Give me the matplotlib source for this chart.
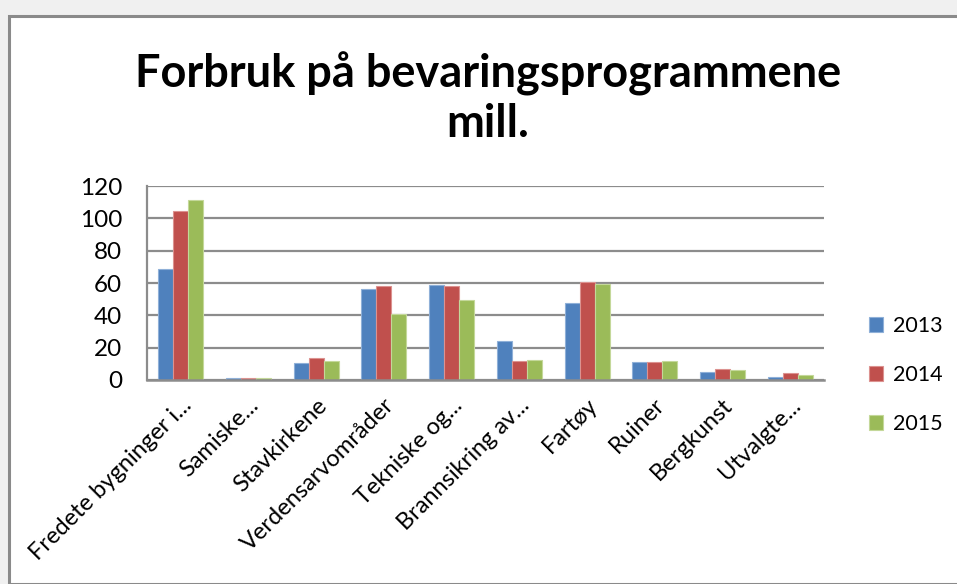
import matplotlib
matplotlib.use("Agg")
import matplotlib.pyplot as plt
import matplotlib.transforms as mtransforms
from matplotlib.patches import Rectangle
import numpy as np

categories = ["Fredete bygninger i...", "Samiske...", "Stavkirkene", "Verdensarvområder",
              "Tekniske og...", "Brannsikring av...", "Fartøy", "Ruiner", "Bergkunst", "Utvalgte..."]
series_names = ["2013", "2014", "2015"]
v2013 = [68.5, 1.5, 10.7, 56.1, 59.0, 24.4, 47.4, 11.1, 4.8, 2.1]
v2014 = [104.8, 1.5, 13.6, 58.4, 58.4, 12.0, 60.4, 11.1, 7.0, 4.1]
v2015 = [111.6, 1.5, 12.0, 41.0, 49.5, 12.6, 59.4, 11.7, 6.0, 2.9]
yticks = [0, 20, 40, 60, 80, 100, 120]
colors = ["#4F81BD", "#C0504D", "#9BBB59"]
edge_colors = ["#8FB0D8", "#DC9290", "#C4D89A"]

plt.rcParams['font.family'] = ['Lato', 'DejaVu Sans']

W, H = 957, 584
fig = plt.figure(figsize=(W / 100, H / 100), dpi=100)
fig.patch.set_facecolor("#f0f0f0")

# chart frame
frame = Rectangle((9 / W, 0), 1.0, 1 - 16 / H, transform=fig.transFigure,
                  facecolor="white", edgecolor="#8a8a8a", linewidth=2.2, zorder=-10)
fig.patches.append(frame)

ax = fig.add_axes([147 / W, 1 - 380 / H, (824 - 147) / W, (380 - 186) / H])
ax.set_facecolor("none")
ax.set_zorder(2)

x = np.arange(len(categories))
bw = 0.222
for i, (vals, c, ec) in enumerate(zip([v2013, v2014, v2015], colors, edge_colors)):
    ax.bar(x + (i - 1) * bw, vals, width=bw, color=c, edgecolor=ec, linewidth=0.8,
           label=series_names[i], zorder=3)

ax.set_xlim(-0.5, len(categories) - 0.5)
ax.set_ylim(0, 120)
ax.set_yticks(yticks)
ax.set_yticklabels([str(t) for t in yticks], fontsize=17.5)
ax.yaxis.grid(True, color="#8c8c8c", linewidth=1.6, zorder=1)
ax.set_axisbelow(True)
for s in ["top", "right"]:
    ax.spines[s].set_visible(False)
ax.spines["left"].set_color("#8c8c8c")
ax.spines["left"].set_linewidth(1.6)
ax.spines["bottom"].set_color("#8c8c8c")
ax.spines["bottom"].set_linewidth(1.8)
ax.spines["bottom"].set_zorder(4)
ax.tick_params(axis="y", length=0, pad=18)
ax.tick_params(axis="x", length=0)

ax.set_xticks(x)
ax.set_xticklabels(categories, rotation=45, ha="right", va="center",
                   rotation_mode="anchor", fontsize=17)
offset = mtransforms.ScaledTranslation(7 / 100, -17 / 100, fig.dpi_scale_trans)
for lab in ax.get_xticklabels():
    lab.set_transform(lab.get_transform() + offset)

fig.text(488 / W, 1 - 98 / H, "Forbruk på bevaringsprogrammene\nmill.",
         ha="center", va="center", fontsize=32.5, fontweight="bold", linespacing=1.2)

leg = fig.legend(loc="center left", bbox_to_anchor=(850 / W, 1 - 375 / H),
                 frameon=False, fontsize=15.5, handlelength=0.65, handleheight=0.65,
                 handletextpad=0.45, labelspacing=1.35)

fig.savefig("out.png", dpi=100, facecolor=fig.get_facecolor())
